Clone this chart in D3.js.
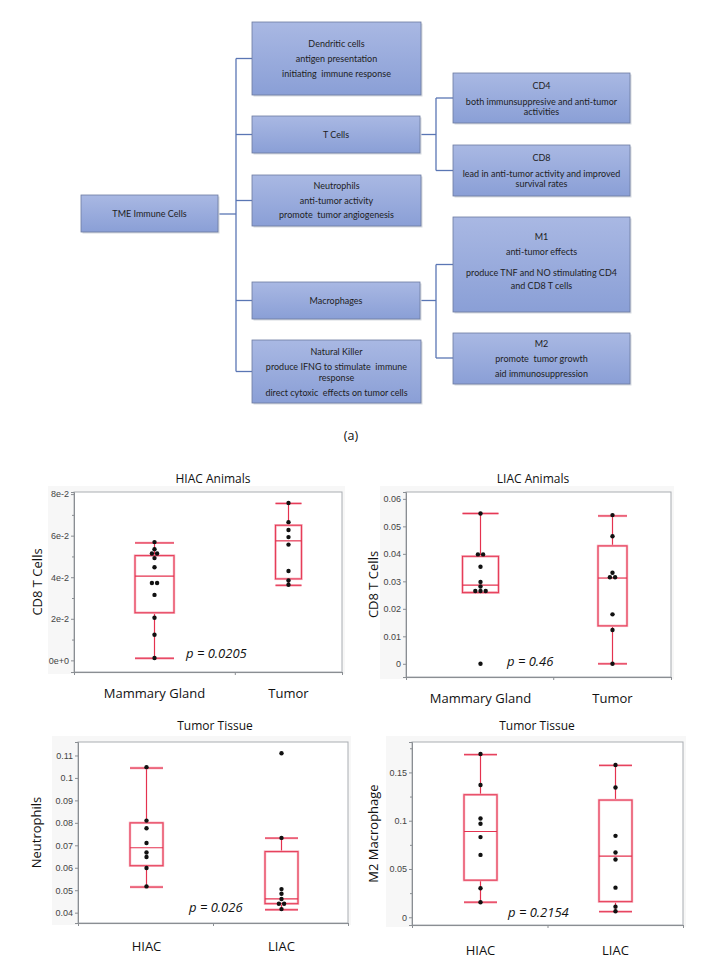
<!DOCTYPE html>
<html>
<head>
<meta charset="utf-8">
<script src="https://cdn.jsdelivr.net/npm/d3@7"></script>
<style>
  body { margin: 0; background: #fff; }
  svg { display: block; }
  .node text { font-family: Lato, "DejaVu Sans", sans-serif; font-size: 9px; fill: #1e1e1e; }
  .tick text { font-family: "Liberation Sans", Arial, sans-serif; font-size: 9px; fill: #444; }
  .lab { font-family: "Open Sans", "Noto Sans", sans-serif; fill: #111; }
</style>
</head>
<body>
<svg id="fig" width="725" height="973"></svg>
<script>
// ---- diagram text ----
var rootLines = ["TME Immune Cells"];
var dendriticLines = ["Dendritic cells", "antigen presentation", "initiating  immune response"];
var tcellLines = ["T Cells"];
var neutroLines = ["Neutrophils", "anti-tumor activity", "promote  tumor angiogenesis"];
var macroLines = ["Macrophages"];
var nkLines = ["Natural Killer", "produce IFNG to stimulate  immune", "response", "direct cytoxic  effects on tumor cells"];
var cd4Lines = ["CD4", "both immunsuppresive and anti-tumor", "activities"];
var cd8Lines = ["CD8", "lead in anti-tumor activity and improved", "survival rates"];
var m1Lines = ["M1", "anti-tumor effects", "produce TNF and NO stimulating CD4", "and CD8 T cells"];
var m2Lines = ["M2", "promote  tumor growth", "aid immunosuppression"];

// ---- box plot data ----
var hiacMammary = [0.0569, 0.0535, 0.0514, 0.0514, 0.0492, 0.0448, 0.0372, 0.0372, 0.0315, 0.0205, 0.0123, 0.0011];
var hiacTumor = [0.0757, 0.0665, 0.0627, 0.0593, 0.0557, 0.0430, 0.0384, 0.0364];
var liacMammary = [0.0547, 0.0398, 0.0398, 0.0353, 0.0298, 0.0281, 0.0265, 0.0265, 0.0265, 0.0];
var liacTumor = [0.0541, 0.0464, 0.0331, 0.0315, 0.0315, 0.0180, 0.0123, 0.0];
var neutroHiac = [0.1048, 0.0810, 0.0776, 0.0710, 0.0668, 0.0648, 0.0599, 0.0517];
var neutroLiac = [0.1110, 0.0733, 0.0505, 0.0484, 0.0461, 0.0440, 0.0440, 0.0416];
var m2Hiac = [0.1690, 0.1370, 0.1023, 0.0968, 0.0830, 0.0646, 0.0301, 0.0156];
var m2Liac = [0.1577, 0.1344, 0.0843, 0.0670, 0.0598, 0.0307, 0.0110, 0.0062];

// box stats: [low whisker, q1, median, q3, high whisker]
var hiacMammaryBox = [0.0010, 0.0229, 0.0405, 0.0504, 0.0565];
var hiacTumorBox = [0.0361, 0.0392, 0.0575, 0.0650, 0.0755];
var liacMammaryBox = [0.0259, 0.0259, 0.0286, 0.0391, 0.0547];
var liacTumorBox = [0.0, 0.0138, 0.0312, 0.0429, 0.0538];
var neutroHiacBox = [0.0514, 0.0609, 0.0689, 0.0800, 0.1044];
var neutroLiacBox = [0.0413, 0.0440, 0.0461, 0.0672, 0.0732];
var m2HiacBox = [0.0156, 0.0384, 0.0888, 0.1269, 0.1684];
var m2LiacBox = [0.0058, 0.0162, 0.0633, 0.1214, 0.1573];

var siteCats = ["Mammary Gland", "Tumor"];
var groupCats = ["HIAC", "LIAC"];

var cd8HiacTicks = [0, 0.02, 0.04, 0.06, 0.08];
var cd8HiacTickLabels = ["0e+0", "2e-2", "4e-2", "6e-2", "8e-2"];
var cd8LiacTicks = [0, 0.01, 0.02, 0.03, 0.04, 0.05, 0.06];
var cd8LiacTickLabels = ["0", "0.01", "0.02", "0.03", "0.04", "0.05", "0.06"];
var neutroTicks = [0.04, 0.05, 0.06, 0.07, 0.08, 0.09, 0.1, 0.11];
var neutroTickLabels = ["0.04", "0.05", "0.06", "0.07", "0.08", "0.09", "0.1", "0.11"];
var m2Ticks = [0, 0.05, 0.1, 0.15];
var m2TickLabels = ["0", "0.05", "0.1", "0.15"];

var svg = d3.select("#fig");
svg.append("rect").attr("width", 725).attr("height", 973).attr("fill", "#fff");

// ================= (a) diagram =================
var defs = svg.append("defs");
var grad = defs.append("linearGradient").attr("id", "boxg").attr("x1", 0).attr("y1", 0).attr("x2", 0).attr("y2", 1);
grad.append("stop").attr("offset", "0%").attr("stop-color", "#a9b8e3");
grad.append("stop").attr("offset", "100%").attr("stop-color", "#8a9fd6");

var nodes = [
  {lines: rootLines, x: 81, y: 195, w: 137, h: 37, ty: [214]},
  {lines: dendriticLines, x: 252, y: 22, w: 169, h: 73, ty: [44, 59.5, 74.5]},
  {lines: tcellLines, x: 252, y: 116, w: 168, h: 37, ty: [135]},
  {lines: neutroLines, x: 252, y: 175, w: 169, h: 51, ty: [186, 201, 215.5]},
  {lines: macroLines, x: 252, y: 282, w: 168, h: 37, ty: [301]},
  {lines: nkLines, x: 252, y: 340, w: 169, h: 63, ty: [352, 367.5, 378.5, 393.5]},
  {lines: cd4Lines, x: 453, y: 73, w: 177, h: 50, ty: [86, 102.5, 112.5]},
  {lines: cd8Lines, x: 453, y: 145, w: 177, h: 51, ty: [158.5, 174, 184.5]},
  {lines: m1Lines, x: 453, y: 217, w: 177, h: 95, ty: [237.5, 252.5, 273.5, 286.5]},
  {lines: m2Lines, x: 453, y: 333, w: 177, h: 51, ty: [344, 359.5, 374.5]}
];

var link = d3.line();
var links = [
  [[218, 214], [236, 214]],
  [[236, 58.5], [236, 371.5]],
  [[236, 58.5], [252, 58.5]],
  [[236, 134.5], [252, 134.5]],
  [[236, 200.5], [252, 200.5]],
  [[236, 300.5], [252, 300.5]],
  [[236, 371.5], [252, 371.5]],
  [[420, 134.5], [436, 134.5]],
  [[436, 98], [436, 170.5]],
  [[436, 98], [453, 98]],
  [[436, 170.5], [453, 170.5]],
  [[420, 300.5], [436, 300.5]],
  [[436, 264.5], [436, 358]],
  [[436, 264.5], [453, 264.5]],
  [[436, 358], [453, 358]]
];
svg.append("g").selectAll("path").data(links).enter().append("path")
  .attr("d", link).attr("fill", "none").attr("stroke", "#5a76b4").attr("stroke-width", 1.3);

var ng = svg.append("g").attr("class", "node").selectAll("g").data(nodes).enter().append("g");
ng.append("rect").attr("x", function(d){ return d.x + 1.5; }).attr("y", function(d){ return d.y + 1.5; })
  .attr("width", function(d){ return d.w; }).attr("height", function(d){ return d.h; }).attr("fill", "#d6d9e0");
ng.append("rect").attr("x", function(d){ return d.x; }).attr("y", function(d){ return d.y; })
  .attr("width", function(d){ return d.w; }).attr("height", function(d){ return d.h; })
  .attr("fill", "url(#boxg)").attr("stroke", "#6c7ba0").attr("stroke-width", 0.8);
ng.each(function(d){
  var g = d3.select(this);
  d.lines.forEach(function(t, i){
    g.append("text").attr("x", d.x + d.w / 2).attr("y", d.ty[i]).attr("dy", "0.33em")
      .attr("text-anchor", "middle").style("white-space", "pre").text(t);
  });
});

svg.append("text").attr("class", "lab").attr("x", 351).attr("y", 436).attr("dy", "0.35em").attr("text-anchor", "middle")
  .attr("font-size", 12.5).attr("fill", "#222").text("(a)");

// ================= box plot panels =================
var panels = [
  {title: "HIAC Animals", ylab: "CD8 T Cells", cats: siteCats, groups: [hiacMammary, hiacTumor], boxes: [hiacMammaryBox, hiacTumorBox],
   p: "p = 0.0205", domain: [-0.0056, 0.081], ticks: cd8HiacTicks, tickLabels: cd8HiacTickLabels, minor: [0.01, 0.03, 0.05, 0.07],
   frame: [74, 492, 342, 672], titleX: 213, titleY: 479, ylabX: 37, catDy: 21, pPos: [186, 653]},
  {title: "LIAC Animals", ylab: "CD8 T Cells", cats: siteCats, groups: [liacMammary, liacTumor], boxes: [liacMammaryBox, liacTumorBox],
   p: "p = 0.46", domain: [-0.0048, 0.0625], ticks: cd8LiacTicks, tickLabels: cd8LiacTickLabels, minor: [],
   frame: [406, 492, 671, 677], titleX: 533, titleY: 479, ylabX: 373, catDy: 21, pPos: [507, 661]},
  {title: "Tumor Tissue", ylab: "Neutrophils", cats: groupCats, groups: [neutroHiac, neutroLiac], boxes: [neutroHiacBox, neutroLiacBox],
   p: "p = 0.026", domain: [0.0354, 0.116], ticks: neutroTicks, tickLabels: neutroTickLabels, minor: [],
   frame: [78, 742, 348, 923], titleX: 215, titleY: 726, ylabX: 36, catDy: 23, pPos: [189, 907]},
  {title: "Tumor Tissue", ylab: "M2 Macrophage", cats: groupCats, groups: [m2Hiac, m2Liac], boxes: [m2HiacBox, m2LiacBox],
   p: "p = 0.2154", domain: [-0.008, 0.1815], ticks: m2Ticks, tickLabels: m2TickLabels, minor: [0.025, 0.075, 0.125, 0.175],
   frame: [412, 742, 683, 925], titleX: 537, titleY: 726, ylabX: 373, catDy: 25, pPos: [508, 912]}
];

var redLine = "#e4324f", pinkLine = "#f6a9b7";

panels.forEach(function(pn){
  var L = pn.frame[0], T = pn.frame[1], R = pn.frame[2], B = pn.frame[3];
  var g = svg.append("g");

  // JMP style: category widths proportional to sample size
  var counts = pn.groups.map(function(a){ return a.length; });
  var cum = [0];
  counts.forEach(function(c, i){ cum.push(cum[i] + c); });
  var x = d3.scaleLinear().domain([0, d3.sum(counts)]).range([L, R]);
  var y = d3.scaleLinear().domain(pn.domain).range([B, T]);

  g.append("rect").attr("x", L - 26).attr("y", T - 6).attr("width", R - L + 29).attr("height", B - T + 8).attr("fill", "#f7f7f7");
  g.append("rect").attr("x", L).attr("y", T).attr("width", R - L).attr("height", B - T)
    .attr("fill", "#fff").attr("stroke", "#a9adb2").attr("stroke-width", 1);

  var yAxis = g.append("g").attr("transform", "translate(" + L + ",0)")
    .call(d3.axisLeft(y).tickValues(pn.ticks).tickFormat(function(d, i){ return pn.tickLabels[i]; }).tickSize(3).tickPadding(2));
  yAxis.select(".domain").attr("stroke", "#8a8e93");
  yAxis.selectAll(".tick line").attr("stroke", "#8a8e93");
  if (pn.minor.length) {
    var ym = g.append("g").attr("transform", "translate(" + L + ",0)")
      .call(d3.axisLeft(y).tickValues(pn.minor).tickFormat("").tickSize(2));
    ym.select(".domain").remove();
    ym.selectAll(".tick line").attr("stroke", "#8a8e93");
  }
  var xAxis = g.append("g").attr("transform", "translate(0," + B + ")")
    .call(d3.axisBottom(x).tickValues(cum).tickFormat("").tickSize(3));
  xAxis.select(".domain").attr("stroke", "#8a8e93");
  xAxis.selectAll(".tick line").attr("stroke", "#8a8e93");

  pn.groups.forEach(function(vals, gi){
    var x0 = x(cum[gi]), x1 = x(cum[gi + 1]);
    var cx = Math.round((x0 + x1) / 2) + 0.5;
    var bw = Math.round((x1 - x0) * 0.245);
    var b = pn.boxes[gi];
    var bg = g.append("g");

    // whiskers
    bg.append("path").attr("d", d3.line()([[cx, y(b[3])], [cx, y(b[4])]]))
      .attr("fill", "none").style("stroke", redLine).style("stroke-width", 1.2);
    bg.append("path").attr("d", d3.line()([[cx, y(b[1])], [cx, y(b[0])]]))
      .attr("fill", "none").style("stroke", redLine).style("stroke-width", 1.2);
    [b[0], b[4]].forEach(function(v){
      bg.append("path").attr("d", d3.line()([[cx - bw / 2, y(v)], [cx + bw / 2, y(v)]]))
        .attr("fill", "none").style("stroke", pinkLine).style("stroke-width", 2.4);
      bg.append("path").attr("d", d3.line()([[cx - bw / 2, y(v)], [cx + bw / 2, y(v)]]))
        .attr("fill", "none").style("stroke", redLine).style("stroke-width", 1);
    });
    // box
    bg.append("rect").attr("x", cx - bw / 2).attr("y", y(b[3])).attr("width", bw).attr("height", y(b[1]) - y(b[3]))
      .attr("fill", "none").style("stroke", pinkLine).style("stroke-width", 2.4);
    bg.append("rect").attr("x", cx - bw / 2).attr("y", y(b[3])).attr("width", bw).attr("height", y(b[1]) - y(b[3]))
      .attr("fill", "none").style("stroke", redLine).style("stroke-width", 0.9);
    bg.append("path").attr("d", d3.line()([[cx - bw / 2, y(b[2])], [cx + bw / 2, y(b[2])]]))
      .attr("fill", "none").style("stroke", redLine).style("stroke-width", 1.2);

    // points, ties spread sideways
    var seen = d3.rollup(vals, function(v){ return v.length; }, function(d){ return d; });
    var idx = new Map();
    var pts = vals.map(function(v){
      var k = seen.get(v), j = idx.get(v) || 0;
      idx.set(v, j + 1);
      return {v: v, dx: (j - (k - 1) / 2) * 5.2};
    });
    bg.selectAll("circle").data(pts).enter().append("circle")
      .attr("cx", function(d){ return cx + d.dx; }).attr("cy", function(d){ return y(d.v); })
      .attr("r", 2.2).attr("fill", "#111");

    g.append("text").attr("class", "lab").attr("x", cx).attr("y", B + pn.catDy).attr("dy", "0.35em")
      .attr("text-anchor", "middle").attr("font-size", 13).text(pn.cats[gi]);
  });

  g.append("text").attr("class", "lab").attr("x", pn.titleX).attr("y", pn.titleY).attr("dy", "0.35em")
    .attr("text-anchor", "middle").attr("font-size", 12).text(pn.title);
  g.append("text").attr("class", "lab").attr("transform", "translate(" + pn.ylabX + "," + ((T + B) / 2) + ") rotate(-90)")
    .attr("dy", "0.35em").attr("text-anchor", "middle").attr("font-size", 13).text(pn.ylab);
  g.append("text").attr("class", "lab").attr("x", pn.pPos[0]).attr("y", pn.pPos[1]).attr("dy", "0.35em")
    .attr("font-size", 13).attr("font-style", "italic").text(pn.p);
});
</script>
</body>
</html>
